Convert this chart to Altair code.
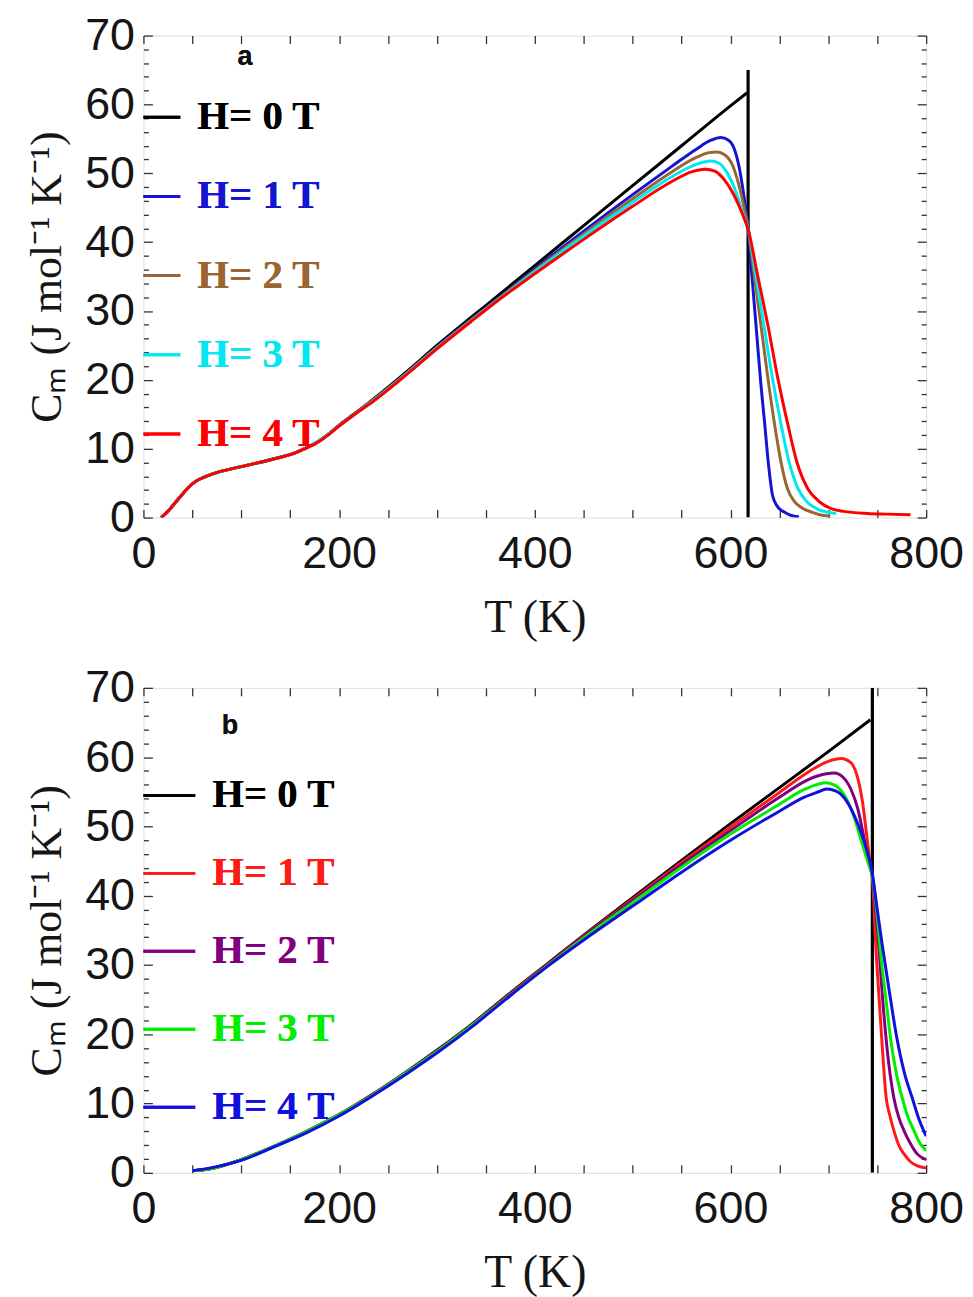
import altair as alt
import pandas as pd

# ---------------- Panel a data ----------------
A_H0_T = [18, 25, 35, 50, 70, 100, 130, 155, 165, 178, 188, 200, 215, 235, 270, 300, 336, 363, 400, 450, 500, 550, 600, 617]
A_H0_C = [0, 0.9, 2.6, 4.9, 6.3, 7.4, 8.4, 9.4, 10.0, 11.0, 12.0, 13.4, 15.0, 17.2, 21.3, 25.0, 29.2, 32.3, 36.6, 42.4, 48.2, 54.0, 59.8, 61.7]

A_H1_T = [18, 25, 35, 50, 70, 100, 130, 155, 165, 178, 188, 200, 215, 235, 270, 300, 336, 363, 400, 450, 500, 540, 565, 580,
          590, 598, 604, 609, 614, 618.5, 622, 626, 631, 635, 639, 643, 648, 655, 662, 670]
A_H1_C = [0, 0.9, 2.6, 4.9, 6.3, 7.4, 8.4, 9.4, 10.0, 11.0, 12.0, 13.4, 15.0, 17.1, 21.1, 24.8, 28.9, 31.9, 36.1, 41.6, 46.9, 51.0, 53.5, 54.8,
          55.2, 54.8, 53.5, 50.8, 46.4, 41.6, 35.0, 28.1, 19.5, 13.6, 7.5, 3.2, 1.6, 0.8, 0.3, 0.1]

A_H2_T = [18, 25, 35, 50, 70, 100, 130, 155, 165, 178, 188, 200, 215, 235, 270, 300, 336, 363, 400, 450, 500, 540, 565, 578,
          586, 594, 602, 608, 614, 618.5, 624, 631, 638, 645, 652, 658, 665, 672, 683, 695, 702]
A_H2_C = [0, 0.9, 2.6, 4.9, 6.3, 7.4, 8.4, 9.4, 10.0, 11.0, 12.0, 13.4, 15.0, 17.1, 21.1, 24.7, 28.8, 31.8, 35.9, 41.2, 46.3, 50.2, 52.3, 53.0,
          53.1, 52.7, 51.2, 48.6, 45.0, 41.6, 35.5, 28.1, 20.5, 13.6, 7.8, 4.3, 2.4, 1.5, 0.8, 0.3, 0.2]

A_H3_T = [18, 25, 35, 50, 70, 100, 130, 155, 165, 178, 188, 200, 215, 235, 270, 300, 336, 363, 400, 450, 500, 540, 560, 572,
          580, 588, 596, 604, 611, 618.5, 626, 634, 642, 651.6, 660, 669, 678, 688, 698, 708]
A_H3_C = [0, 0.9, 2.6, 4.9, 6.3, 7.4, 8.4, 9.4, 10.0, 11.0, 12.0, 13.3, 14.9, 17.0, 21.0, 24.6, 28.7, 31.7, 35.7, 40.9, 45.8, 49.5, 51.0, 51.6,
          51.8, 51.5, 50.2, 47.9, 44.9, 41.6, 35.0, 28.1, 21.0, 13.6, 8.0, 4.2, 2.3, 1.3, 0.8, 0.6]

A_H4_T = [18, 25, 35, 50, 70, 100, 130, 155, 165, 178, 188, 200, 215, 235, 270, 300, 336, 363, 400, 450, 500, 540, 560, 574,
          584, 594, 603, 611, 618.5, 628, 638, 648, 658.5, 668, 679, 690, 703, 716, 740, 760, 784]
A_H4_C = [0, 0.9, 2.6, 4.9, 6.3, 7.4, 8.4, 9.4, 10.0, 10.9, 11.9, 13.3, 14.9, 16.9, 20.9, 24.5, 28.6, 31.6, 35.4, 40.4, 45.2, 48.8, 50.2, 50.6,
          50.3, 49.0, 47.0, 44.5, 41.6, 35.0, 28.1, 20.5, 13.6, 8.0, 4.2, 2.4, 1.3, 0.9, 0.6, 0.5, 0.4]

A_TC = 618          # transition (vertical black line)
A_SPIKE = 65

# ---------------- Panel b data ----------------
B_H0_T = [50, 60, 75, 100, 133, 167, 200, 234, 268, 302, 336, 370, 414, 450, 500, 550, 600, 650, 700, 743]
B_H0_C = [0.3, 0.4, 0.8, 1.9, 3.8, 6.0, 8.4, 11.3, 14.5, 17.9, 21.5, 25.4, 30.3, 34.3, 39.7, 45.1, 50.4, 55.6, 60.8, 65.4]

B_H1_T = [50, 60, 75, 100, 133, 167, 200, 234, 268, 302, 336, 370, 414, 450, 500, 550, 600, 650, 680, 700, 713,
          723, 730, 735, 739, 743, 745, 749, 752, 755, 759, 763, 767, 772, 777.5, 784, 791, 800]
B_H1_C = [0.3, 0.4, 0.8, 1.9, 3.8, 6.0, 8.4, 11.3, 14.5, 17.8, 21.4, 25.3, 30.2, 34.2, 39.5, 44.8, 49.9, 54.9, 57.9, 59.4, 59.8,
          59.2, 57.0, 53.5, 49.0, 44.5, 42.8, 31.5, 25.0, 18.5, 11.0, 8.2, 6.1, 4.0, 2.7, 1.6, 1.0, 0.7]

B_H2_T = [50, 60, 75, 100, 133, 167, 200, 234, 268, 302, 336, 370, 414, 450, 500, 550, 600, 650, 680, 698, 706,
          715, 723, 730, 736, 741, 745, 749, 752, 755, 760, 767, 772, 777.3, 784, 791, 800]
B_H2_C = [0.3, 0.4, 0.8, 1.9, 3.8, 6.0, 8.4, 11.3, 14.5, 17.8, 21.4, 25.2, 30.1, 34.1, 39.3, 44.5, 49.4, 54.2, 56.8, 57.6, 57.7,
          57.1, 55.4, 52.6, 48.7, 45.0, 42.8, 37.0, 32.0, 26.0, 18.0, 10.8, 8.0, 6.1, 4.2, 2.7, 1.9]

B_H3_T = [50, 60, 75, 100, 133, 167, 200, 234, 268, 302, 336, 370, 414, 450, 500, 550, 600, 650, 675, 690, 697,
          706, 716, 726, 735, 741, 745, 750, 754, 758.8, 764, 770, 775.6, 781, 787.5, 793, 800]
B_H3_C = [0.3, 0.4, 0.8, 1.9, 3.8, 6.0, 8.4, 11.2, 14.4, 17.7, 21.3, 25.1, 30.0, 33.9, 39.0, 44.1, 48.9, 53.2, 55.3, 56.1, 56.3,
          56.0, 54.6, 51.5, 47.3, 44.6, 42.8, 37.0, 31.0, 25.2, 19.0, 14.0, 10.8, 8.2, 6.1, 4.4, 3.2]

B_H4_T = [50, 60, 75, 100, 133, 167, 200, 234, 268, 302, 336, 370, 414, 450, 500, 550, 567, 600, 650, 675, 690,
          698, 708, 718, 728, 738, 745, 750, 755, 762, 770, 778, 785.8, 792, 797.4, 800]
B_H4_C = [0.3, 0.5, 0.9, 1.8, 3.7, 5.8, 8.2, 11.1, 14.2, 17.5, 21.1, 25.0, 29.9, 33.6, 38.5, 43.4, 45.0, 48.0, 52.2, 54.2, 55.0,
          55.4, 55.1, 53.8, 51.1, 47.2, 43.2, 38.0, 33.0, 26.5, 19.5, 14.3, 10.8, 8.0, 6.1, 5.3]

B_TC = 745
B_SPIKE = 70

# ---------------- labels / ticks ----------------
LABELS = ["H= 0 T", "H= 1 T", "H= 2 T", "H= 3 T", "H= 4 T"]
A_COLORS = ["#000000", "#1414d2", "#996633", "#00e8f0", "#ff0000"]
B_COLORS = ["#000000", "#ff1a1a", "#800080", "#00ee00", "#1010e0"]
X_LABEL_VALUES = [0, 200, 400, 600, 800]
X_TICK_VALUES = list(range(0, 801, 50))
Y_LABEL_VALUES = list(range(0, 71, 10))
Y_MINOR_VALUES = [v for v in range(0, 71, 2) if v % 10 != 0]

W = 786
XS = alt.Scale(domain=[0, 800], nice=False, zero=False)
YS = alt.Scale(domain=[0, 70], nice=False, zero=False)
FRAME = "#333333"
TEXTC = "#151515"

carrier = pd.DataFrame({"T": [0, 800], "C": [0, 70]})


def tick_axis(orient, offset, values, size):
    return alt.Axis(orient=orient, offset=offset, values=values, labels=False, domain=False,
                    ticks=True, tickSize=size, tickColor=FRAME, tickWidth=1.3, grid=False, title=None)


def axis_layer(xa, ya):
    return alt.Chart(carrier).mark_point(opacity=0).encode(
        x=alt.X("T:Q", scale=XS, axis=xa),
        y=alt.Y("C:Q", scale=YS, axis=ya),
    )


def panel(H, series, colors, tc, spike, letter, letter_pos, leg_top, leg_step, seg_len, text_x):
    layers = []
    x_lab = alt.Axis(orient="bottom", values=X_LABEL_VALUES, format="d", ticks=False, tickSize=0, domain=False,
                     grid=False, labelFont="Liberation Sans", labelFontSize=45, labelColor=TEXTC,
                     labelPadding=14, labelFlush=False, labelOverlap=False,
                     title="T (K)", titleFont="Liberation Serif", titleFontSize=46, titleFontWeight="normal",
                     titleColor=TEXTC, titlePadding=19)
    y_lab = alt.Axis(orient="left", values=Y_LABEL_VALUES, format="d", ticks=False, tickSize=0, domain=False,
                     grid=False, labelFont="Liberation Sans", labelFontSize=45, labelColor=TEXTC,
                     labelPadding=9, labelOverlap=False,
                     title="Cₘ (J mol⁻¹ K⁻¹)", titleFont="Liberation Serif", titleFontSize=44,
                     titleFontWeight="normal", titleColor=TEXTC, titlePadding=15)
    layers.append(axis_layer(x_lab, y_lab))
    layers.append(axis_layer(tick_axis("top", -H, X_TICK_VALUES, 8), tick_axis("right", -W, Y_LABEL_VALUES, 9)))
    layers.append(axis_layer(tick_axis("bottom", -H, X_TICK_VALUES, 8), tick_axis("left", -W, Y_LABEL_VALUES, 9)))
    layers.append(axis_layer(None, tick_axis("right", -W, Y_MINOR_VALUES, 5)))
    layers.append(axis_layer(None, tick_axis("left", -W, Y_MINOR_VALUES, 5)))

    for i, (T, C) in enumerate(series):
        df = pd.DataFrame({"T": T, "C": C})
        layers.append(
            alt.Chart(df).mark_line(strokeWidth=3, interpolate="monotone", clip=True, color=colors[i]).encode(
                x=alt.X("T:Q", scale=XS, axis=None),
                y=alt.Y("C:Q", scale=YS, axis=None),
            )
        )
        if i == 0:
            rdf = pd.DataFrame({"T": [tc], "y0": [0], "y1": [spike]})
            layers.append(
                alt.Chart(rdf).mark_rule(strokeWidth=3.2, color="#000000", clip=True).encode(
                    x=alt.X("T:Q", scale=XS, axis=None),
                    y=alt.Y("y0:Q", scale=YS, axis=None),
                    y2="y1:Q",
                )
            )

    for i, lab in enumerate(LABELS):
        py = leg_top + i * leg_step
        layers.append(
            alt.Chart(carrier).mark_rule(strokeWidth=3, color=colors[i]).encode(
                x=alt.value(0), x2=alt.value(seg_len), y=alt.value(py)
            )
        )
        layers.append(
            alt.Chart(carrier).mark_text(text=lab, align="left", baseline="middle", font="Liberation Serif",
                                         fontWeight="bold", fontSize=41, color=colors[i]).encode(
                x=alt.value(text_x), y=alt.value(py)
            )
        )
    layers.append(
        alt.Chart(carrier).mark_text(text=letter, align="center", baseline="middle", font="Liberation Sans",
                                     fontWeight="bold", fontSize=27, color="#111111").encode(
            x=alt.value(letter_pos[0]), y=alt.value(letter_pos[1])
        )
    )
    return alt.layer(*layers).resolve_axis(x="independent", y="independent").properties(width=W, height=H)


pa = panel(
    484,
    [(A_H0_T, A_H0_C), (A_H1_T, A_H1_C), (A_H2_T, A_H2_C), (A_H3_T, A_H3_C), (A_H4_T, A_H4_C)],
    A_COLORS, A_TC, A_SPIKE, "a", (102, 22), 82, 79.5, 37, 54,
)
pb = panel(
    487,
    [(B_H0_T, B_H0_C), (B_H1_T, B_H1_C), (B_H2_T, B_H2_C), (B_H3_T, B_H3_C), (B_H4_T, B_H4_C)],
    B_COLORS, B_TC, B_SPIKE, "b", (87, 38), 108, 78.3, 52, 69,
)

chart = alt.vconcat(pa, pb, spacing=24).properties(
    padding={"left": 17, "top": 2, "right": 0, "bottom": 0}
).configure_view(stroke=FRAME, strokeWidth=1.3).configure(background="white")

chart.save("out.html", embed_options={"renderer": "svg", "actions": False})
